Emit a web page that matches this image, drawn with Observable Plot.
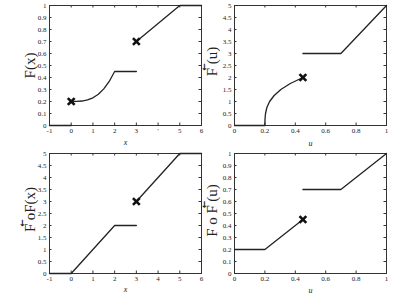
<!DOCTYPE html>
<html><head><meta charset="utf-8">
<script src="https://cdn.jsdelivr.net/npm/d3@7"></script>
<script src="https://cdn.jsdelivr.net/npm/@observablehq/plot@0.6"></script>
<style>
html,body{margin:0;padding:0;background:#fff;}
#wrap{position:relative;width:415px;height:294px;overflow:hidden;background:#fff;}
#wrap svg{position:absolute;}
</style>
</head><body><div id="wrap"></div>
<script>
// ---------- Data ----------
// Panel 1: F(x)
const f_x1 = [-1, 0];
const f_y1 = [0, 0];
const f_x2 = [0, 0.25, 0.5, 0.75, 1, 1.25, 1.5, 1.75, 2, 3];
const f_y2 = [0.2, 0.2005, 0.204, 0.213, 0.231, 0.261, 0.305, 0.367, 0.45, 0.45];
const f_x3 = [3, 5, 6];
const f_y3 = [0.7, 1, 1];
const f_mx = [0, 3];
const f_my = [0.2, 0.7];

// Panel 2: F←(u)
const g_u1 = [0, 0.2, 0.2005, 0.204, 0.213, 0.231, 0.261, 0.305, 0.367, 0.45];
const g_y1 = [0, 0, 0.25, 0.5, 0.75, 1, 1.25, 1.5, 1.75, 2];
const g_u2 = [0.45, 0.7, 1];
const g_y2 = [3, 3, 5];
const g_mu = [0.45];
const g_my = [2];

// Panel 3: F← o F(x)
const h_x1 = [-1, 0, 2, 3];
const h_y1 = [0, 0, 2, 2];
const h_x2 = [3, 5, 6];
const h_y2 = [3, 5, 5];
const h_mx = [3];
const h_my = [3];

// Panel 4: F o F←(u)
const k_u1 = [0, 0.2, 0.45];
const k_y1 = [0.2, 0.2, 0.45];
const k_u2 = [0.45, 0.7, 1];
const k_y2 = [0.7, 0.7, 1];
const k_mu = [0.45];
const k_my = [0.45];

// Ticks
const xTicksA = [-1, 0, 1, 2, 3, 4, 5, 6];
const xTickLabelsA1 = ["-1", "0", "1", "2", "3", "'", "5", "6"];
const xTickLabelsA3 = ["-1", "0", "1", "2", "3", "4", "5", "6"];
const xTicksU = [0, 0.2, 0.4, 0.6, 0.8, 1];
const xTickLabelsU = ["0", "0.2", "0.4", "0.6", "0.8", "1"];
const yTicks1 = [0, 0.1, 0.2, 0.3, 0.4, 0.5, 0.6, 0.7, 0.8, 0.9, 1];
const yTickLabels1 = ["0", "0.1", "0.2", "0.3", "0.4", "0.5", "0.6", "0.7", "0.8", "0.9", "1"];
const yTicks5 = [0, 0.5, 1, 1.5, 2, 2.5, 3, 3.5, 4, 4.5, 5];
const yTickLabels5 = ["0", "0.5", "1", "1.5", "2", "2.5", "3", "3.5", "4", "4.5", "5"];

// Labels
const yLabels = ["F(x)", "F←(u)", "F←oF(x)", "F o F←(u)"];
const xLabels = ["x", "u", "x", "u"];

// ---------- Helpers ----------
function segRows(pairs) {
  const rows = [];
  pairs.forEach(([xs, ys], s) => xs.forEach((x, i) => rows.push({x, y: ys[i], s})));
  return rows;
}
function ptRows(xs, ys) { return xs.map((x, i) => ({x, y: ys[i]})); }

const FONT = "'Liberation Serif', 'DejaVu Serif', serif";
const INK = "#222";

function panel(o) {
  const innerW = o.width - o.ml - o.mr;
  const innerH = o.height - o.mt - o.mb;
  const xMap = new Map(o.xTicks.map((t, i) => [t, o.xTickLabels[i]]));
  const yMap = new Map(o.yTicks.map((t, i) => [t, o.yTickLabels[i]]));
  const svg = Plot.plot({
    width: o.width, height: o.height,
    marginLeft: o.ml, marginRight: o.mr, marginTop: o.mt, marginBottom: o.mb,
    style: {fontFamily: FONT, fontSize: "7px", color: INK, background: "transparent", overflow: "visible"},
    x: {domain: o.xDomain, axis: null},
    y: {domain: o.yDomain, axis: null},
    marks: [
      Plot.frame({stroke: "#333", strokeWidth: 1}),
      Plot.tickX(o.xTicks, {x: d => d, insetTop: innerH - 2.5, stroke: "#333"}),
      Plot.tickX(o.xTicks, {x: d => d, insetBottom: innerH - 2.5, stroke: "#333"}),
      Plot.tickY(o.yTicks, {y: d => d, insetRight: innerW - 2.5, stroke: "#333"}),
      Plot.tickY(o.yTicks, {y: d => d, insetLeft: innerW - 2.5, stroke: "#333"}),
      Plot.text(o.xTicks, {x: d => d, frameAnchor: "bottom", lineAnchor: "top", dy: 2.5, text: d => xMap.get(d), fontSize: 7, fill: INK}),
      Plot.text(o.yTicks, {y: d => d, frameAnchor: "left", textAnchor: "end", dx: -3, text: d => yMap.get(d), fontSize: 7, fill: INK}),
      Plot.line(o.lines, {x: "x", y: "y", z: "s", stroke: INK, strokeWidth: 1.3, curve: "linear"}),
      Plot.dot(o.pts, {x: "x", y: "y", symbol: "times", r: 3.2, stroke: "#111", strokeWidth: 2.6}),
      Plot.text([o.ylabel], {frameAnchor: "left", dx: o.ldx, dy: o.ldy, rotate: -90, fontSize: 15, textAnchor: "middle", fill: INK}),
      Plot.text([o.xlabel], {frameAnchor: "bottom", dy: o.xdy, lineAnchor: "middle", fontSize: 8, fontStyle: "italic", fill: INK})
    ]
  });
  svg.style.left = o.left + "px";
  svg.style.top = o.top + "px";
  svg.style.background = "transparent";
  // superscript arrows in labels
  svg.querySelectorAll("text").forEach(t => {
    const s = t.textContent;
    if (s.includes("←") && t.children.length === 0) {
      const parts = s.split("←");
      t.textContent = "";
      const a = document.createElementNS("http://www.w3.org/2000/svg", "tspan");
      a.textContent = parts[0];
      t.appendChild(a);
      const b = document.createElementNS("http://www.w3.org/2000/svg", "tspan");
      b.textContent = "←";
      b.setAttribute("font-size", "9");
      b.setAttribute("font-family", "'DejaVu Sans', sans-serif");
      b.setAttribute("font-weight", "bold");
      b.setAttribute("dy", "-10");
      b.setAttribute("dx", "-3");
      t.appendChild(b);
      const c = document.createElementNS("http://www.w3.org/2000/svg", "tspan");
      c.textContent = parts[1];
      c.setAttribute("dy", "10");
      c.setAttribute("dx", "-1");
      t.appendChild(c);
    }
  });
  document.getElementById("wrap").appendChild(svg);
}

panel({left: 0, top: 0, width: 207, height: 147, mt: 5, mr: 6, mb: 22, ml: 49,
  xDomain: [-1, 6], yDomain: [0, 1],
  xTicks: xTicksA, xTickLabels: xTickLabelsA1, yTicks: yTicks1, yTickLabels: yTickLabels1,
  lines: segRows([[f_x1, f_y1], [f_x2, f_y2], [f_x3, f_y3]]), pts: ptRows(f_mx, f_my),
  ylabel: yLabels[0], xlabel: xLabels[0], ldx: -19, ldy: 0, xdy: 17});

panel({left: 200, top: 0, width: 215, height: 147, mt: 5, mr: 29, mb: 22, ml: 34,
  xDomain: [0, 1], yDomain: [0, 5],
  xTicks: xTicksU, xTickLabels: xTickLabelsU, yTicks: yTicks5, yTickLabels: yTickLabels5,
  lines: segRows([[g_u1, g_y1], [g_u2, g_y2]]), pts: ptRows(g_mu, g_my),
  ylabel: yLabels[1], xlabel: xLabels[1], ldx: -22, ldy: -4, xdy: 18});

panel({left: 0, top: 147, width: 207, height: 147, mt: 6, mr: 6, mb: 21, ml: 49,
  xDomain: [-1, 6], yDomain: [0, 5],
  xTicks: xTicksA, xTickLabels: xTickLabelsA3, yTicks: yTicks5, yTickLabels: yTickLabels5,
  lines: segRows([[h_x1, h_y1], [h_x2, h_y2]]), pts: ptRows(h_mx, h_my),
  ylabel: yLabels[2], xlabel: xLabels[2], ldx: -19, ldy: -4, xdy: 16});

panel({left: 200, top: 147, width: 215, height: 147, mt: 6, mr: 29, mb: 21, ml: 34,
  xDomain: [0, 1], yDomain: [0, 1],
  xTicks: xTicksU, xTickLabels: xTickLabelsU, yTicks: yTicks1, yTickLabels: yTickLabels1,
  lines: segRows([[k_u1, k_y1], [k_u2, k_y2]]), pts: ptRows(k_mu, k_my),
  ylabel: yLabels[3], xlabel: xLabels[3], ldx: -22, ldy: -3, xdy: 17});
</script>
</body></html>
